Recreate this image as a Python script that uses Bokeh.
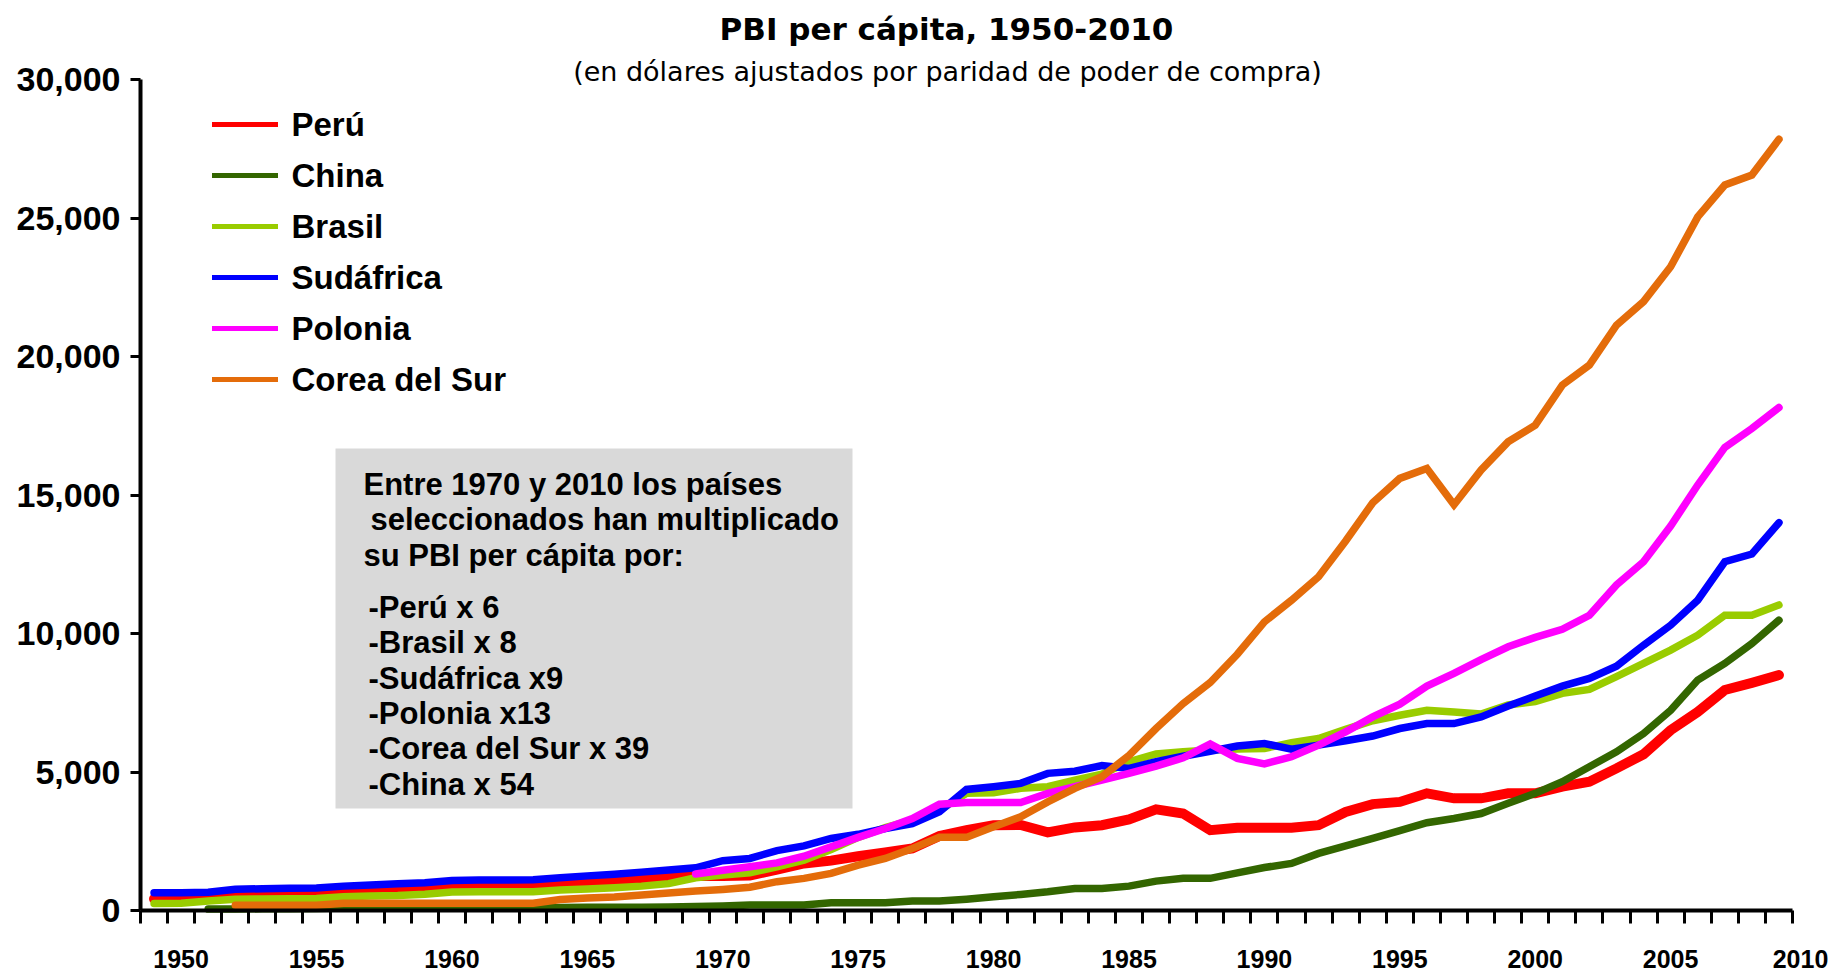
from bokeh.plotting import figure
from bokeh.models import (FixedTicker, NumeralTickFormatter, Label, BoxAnnotation,
                          Legend, LegendItem, Range1d)
from bokeh.embed import file_html
from bokeh.resources import INLINE

# ---------------- data (PBI per cápita, USD PPA) ----------------
peru_start = 1949
peru = [420, 480, 500, 570, 580, 585, 590, 660, 690, 720,
        760, 830, 860, 880, 890, 950, 1010, 1060, 1110, 1180,
        1250, 1250, 1260, 1480, 1700, 1800, 1960, 2100, 2240, 2690,
        2900, 3080, 3090, 2820, 3000, 3080, 3290, 3650, 3500, 2900,
        2990, 2990, 2990, 3080, 3560, 3840, 3920, 4230, 4050, 4050,
        4230, 4230, 4470, 4650, 5130, 5640, 6510, 7170, 7960, 8220,
        8500]

china_start = 1951
china = [50, 55, 60, 60, 70, 90, 95, 100, 100, 100,
         100, 100, 100, 110, 115, 120, 120, 125, 140, 160,
         195, 195, 195, 280, 280, 280, 340, 340, 410, 495,
         580, 675, 795, 795, 880, 1060, 1160, 1160, 1360, 1550,
         1700, 2060, 2330, 2600, 2880, 3170, 3320, 3500, 3870, 4230,
         4650, 5190, 5730, 6390, 7230, 8320, 8920, 9640, 10480]

brasil_start = 1949
brasil = [255, 260, 340, 410, 415, 425, 436, 496, 520, 540,
          590, 670, 675, 675, 675, 740, 780, 820, 880, 970,
          1180, 1280, 1360, 1580, 1820, 2200, 2640, 2990, 3260, 3620,
          4230, 4250, 4410, 4470, 4710, 4920, 5370, 5650, 5730, 5790,
          5830, 5850, 6055, 6210, 6540, 6850, 7050, 7230, 7170, 7090,
          7420, 7540, 7840, 7980, 8440, 8920, 9400, 9940, 10660, 10660,
          11030]

sudafrica_start = 1949
sudafrica = [640, 640, 660, 770, 785, 800, 810, 880, 920, 965,
             1000, 1085, 1100, 1100, 1110, 1180, 1250, 1310, 1385, 1460,
             1540, 1800, 1880, 2160, 2330, 2600, 2750, 2960, 3140, 3560,
             4370, 4470, 4590, 4950, 5030, 5230, 5130, 5370, 5570, 5750,
             5940, 6030, 5820, 5970, 6130, 6300, 6570, 6750, 6750, 6990,
             7380, 7740, 8100, 8380, 8820, 9580, 10300, 11200, 12590, 12870,
             14000]

polonia_start = 1969
polonia = [1320, 1450, 1580, 1720, 1960, 2300, 2640, 2960, 3320, 3840,
           3900, 3900, 3900, 4230, 4470, 4710, 4950, 5210, 5510, 6010,
           5490, 5290, 5550, 5970, 6450, 6990, 7450, 8100, 8560, 9060,
           9520, 9860, 10150, 10660, 11750, 12590, 13880, 15360, 16720, 17400,
           18160]

corea_start = 1952
corea = [190, 190, 190, 190, 260, 260, 260, 260, 260, 260,
         260, 260, 400, 450, 490, 560, 630, 700, 760, 840,
         1040, 1160, 1340, 1640, 1880, 2240, 2640, 2640, 3020, 3380,
         3920, 4410, 4830, 5600, 6570, 7470, 8230, 9250, 10420, 11200,
         12050, 13340, 14720, 15600, 15960, 14650, 15900, 16920, 17520, 18970,
         19690, 21130, 21980, 23240, 25040, 26190, 26550, 27840]

series_names = ["Perú", "China", "Brasil", "Sudáfrica", "Polonia", "Corea del Sur"]
series_values = [peru, china, brasil, sudafrica, polonia, corea]
series_starts = [peru_start, china_start, brasil_start, sudafrica_start, polonia_start, corea_start]
series_colors = ["#FF0000", "#336600", "#99CC00", "#0000FF", "#FF00FF", "#E46C0A"]
series_widths = [10, 7.5, 7.5, 7.5, 7.5, 7.5]

axis_year_labels = [1950, 1955, 1960, 1965, 1970, 1975, 1980, 1985, 1990, 1995, 2000, 2005]
last_year_label = 2010
y_ticks = [0, 5000, 10000, 15000, 20000, 25000, 30000]

title_text = "PBI per cápita, 1950-2010"
subtitle_text = "(en dólares ajustados por paridad de poder de compra)"
box_lines = ["Entre 1970 y 2010 los países",
             "seleccionados han multiplicado",
             "su PBI per cápita por:",
             "-Perú x 6",
             "-Brasil x 8",
             "-Sudáfrica x9",
             "-Polonia x13",
             "-Corea del Sur x 39",
             "-China x 54"]

# ---------------- geometry (page pixels; the canvas starts at the page corner) ----------------
W, H = 1834, 972
AX_L, AX_R = 140.0, 1792.0      # x of the category axis ends
AX_T, AX_B = 79.0, 910.0        # y of 30,000 and 0
X0, X1 = 1948.5, 2009.5
Y0, Y1 = 0.0, 30000.0
PPX = (AX_R - AX_L) / (X1 - X0)
PPY = (AX_B - AX_T) / (Y1 - Y0)

def dx(px):
    return X0 + (px - AX_L) / PPX

def dy(py):
    return (AX_B - py) / PPY

def base(py, size):
    # labels land with their cap middle on y: shift so the baseline sits at py
    return dy(py - 0.358 * size)

# the frame covers the whole canvas; the axes sit at fixed locations inside it
p = figure(width=W, height=H, output_backend="svg", toolbar_location=None,
           x_range=Range1d(dx(0), dx(W)), y_range=Range1d(dy(H), dy(0)),
           min_border_left=0, min_border_right=0, min_border_top=0, min_border_bottom=0)
p.outline_line_color = None
p.xgrid.visible = False
p.ygrid.visible = False
p.background_fill_color = "white"
p.border_fill_color = "white"

xa = p.xaxis[0]
xa.fixed_location = 0
xa.bounds = (X0, X1)
xa.ticker = FixedTicker(ticks=axis_year_labels, minor_ticks=[X0 + i for i in range(int(X1 - X0) + 1)])
xa.major_tick_out = 0
xa.major_tick_in = 0
xa.minor_tick_out = 13
xa.minor_tick_in = 0
xa.minor_tick_line_width = 3
xa.minor_tick_line_color = "black"
xa.axis_line_width = 4
xa.major_label_standoff = 26
xa.major_label_text_font = "Liberation Sans"
xa.major_label_text_font_style = "bold"
xa.major_label_text_font_size = "25px"
xa.major_label_text_color = "black"

ya = p.yaxis[0]
ya.fixed_location = X0
ya.bounds = (Y0, Y1)
ya.ticker = FixedTicker(ticks=y_ticks)
ya.formatter = NumeralTickFormatter(format="0,0")
ya.major_label_text_font = "Liberation Sans"
ya.major_label_text_font_style = "bold"
ya.major_label_text_font_size = "34px"
ya.major_label_text_color = "black"
ya.major_tick_out = 10
ya.major_tick_in = 0
ya.major_tick_line_width = 3
ya.axis_line_width = 4
ya.minor_tick_line_color = None
ya.major_label_standoff = 10

# lines
renderers = []
for name, vals, start, col, w in zip(series_names, series_values, series_starts,
                                      series_colors, series_widths):
    xs = list(range(start, start + len(vals)))
    r = p.line(xs, vals, line_color=col, line_width=w, line_cap="round", line_join="miter")
    renderers.append(r)

legend = Legend(items=[LegendItem(label=n, renderers=[r]) for n, r in zip(series_names, renderers)],
                location=(211.5, 567), orientation="vertical",
                glyph_width=66, glyph_height=5, label_height=51, spacing=0,
                label_standoff=14, padding=0, margin=0,
                border_line_color=None, background_fill_alpha=0,
                label_text_font="Liberation Sans", label_text_font_style="bold",
                label_text_font_size="33px", label_text_color="black",
                label_text_baseline="alphabetic")
p.add_layout(legend)

# grey note box
p.add_layout(BoxAnnotation(left=dx(335), right=dx(852), top=dy(448), bottom=dy(808),
                           fill_color="#D9D9D9", fill_alpha=1.0, line_color=None))
box_x = [363, 370, 363, 368, 368, 368, 368, 368, 368]
box_base = [495, 530.5, 566.5, 618.5, 653.5, 689, 724, 759.5, 795]
for t, bx, by in zip(box_lines, box_x, box_base):
    p.add_layout(Label(x=dx(bx), y=base(by, 31), text=t, text_align="left",
                       text_baseline="alphabetic",
                       text_font="Liberation Sans", text_font_style="bold",
                       text_font_size="31px", text_color="black"))

# the last year label sits just past the end of the category axis
p.add_layout(Label(x=dx(1800), y=base(967, 25), text=str(last_year_label), text_align="center",
                   text_baseline="alphabetic", text_font="Liberation Sans",
                   text_font_style="bold", text_font_size="25px", text_color="black"))

# title and subtitle
p.add_layout(Label(x=dx(946), y=base(39.5, 31), text=title_text, text_align="center",
                   text_baseline="alphabetic", text_font="DejaVu Sans", text_font_style="bold",
                   text_font_size="31px", text_color="black"))
p.add_layout(Label(x=dx(947), y=base(80.5, 27), text=subtitle_text, text_align="center",
                   text_baseline="alphabetic", text_font="DejaVu Sans", text_font_style="normal",
                   text_font_size="27px", text_color="black"))

open("out.html", "w").write(file_html(p, INLINE))
